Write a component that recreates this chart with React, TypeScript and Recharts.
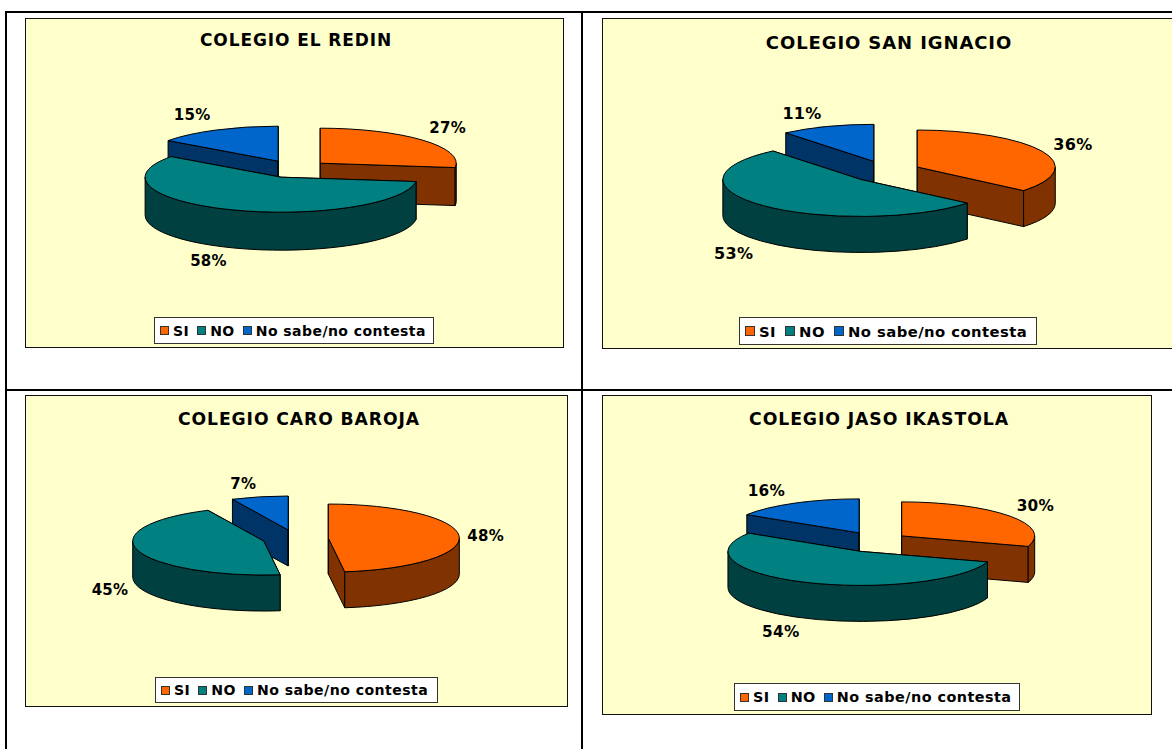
import React from "react";
import { PieChart, Pie, Legend } from "recharts";

const categories = ["SI", "NO", "No sabe/no contesta"];
const topColors = ["#FF6600", "#008080", "#0066CC"];
const wallColors = ["#803300", "#004040", "#003366"];
const drawOrder = [2, 0, 1];

const titles = ["COLEGIO EL REDIN", "COLEGIO SAN IGNACIO", "COLEGIO CARO BAROJA", "COLEGIO JASO IKASTOLA"];
const elRedin = [27, 58, 15];
const sanIgnacio = [36, 53, 11];
const caroBaroja = [48, 45, 7];
const jasoIkastola = [30, 54, 16];
const seriesValues = [elRedin, sanIgnacio, caroBaroja, jasoIkastola];

const panels = [
  { left: 25, top: 18, width: 539, height: 330, titleY: 22, titleX: 270, titleSize: 17 },
  { left: 602, top: 18, width: 600, height: 331, titleY: 25, titleX: 286, titleSize: 18 },
  { left: 25, top: 395, width: 543, height: 312, titleY: 24, titleX: 273, titleSize: 17.2 },
  { left: 602, top: 395, width: 550, height: 320, titleY: 24, titleX: 276, titleSize: 17.3 },
];
const pies = [
  { cx: 294, cy: 169, r: 136, ry: 35, ex: 35, ey: 8.8, depth: 38, labelSize: 15 },
  { cx: 885.6, cy: 171.7, r: 138, ry: 37, ex: 35, ey: 11, depth: 36, labelSize: 16 },
  { cx: 295.4, cy: 538.6, r: 131, ry: 34, ex: 33, ey: 8.8, depth: 36, labelSize: 15 },
  { cx: 875, cy: 542, r: 133, ry: 34, ex: 33, ey: 10.4, depth: 36, labelSize: 15.3 },
];
const labelNudges = [
  [[10, -9], [-15, 8], [-15, -10]],
  [[12, -4], [-15, 8], [-18, -8]],
  [[7, 0], [-9, 2], [-12, -8]],
  [[10, -7], [-15, 9], [-19, -8]],
];
const legends = [
  { left: 154, top: 317, width: 280, height: 27, size: 14, swatch: 9, gap: 8 },
  { left: 739, top: 317, width: 298, height: 28, size: 14.8, swatch: 10, gap: 9 },
  { left: 155, top: 677, width: 283, height: 26, size: 14.1, swatch: 9, gap: 8 },
  { left: 734, top: 683, width: 286, height: 28, size: 14.4, swatch: 9, gap: 8 },
];

const FONT = "'DejaVu Sans', Verdana, sans-serif";
const rad = (d: number) => (d * Math.PI) / 180;

function Slice(props: any, p: any) {
  const { startAngle, endAngle, fill } = props;
  const wall = props.payload?.wall ?? props.wall;
  const t1 = 90 - startAngle;
  const t2 = 90 - endAngle;
  const mid = rad((t1 + t2) / 2);
  const cx = props.cx + p.ex * Math.sin(mid);
  const cy = props.cy - p.ey * Math.cos(mid);
  const pt = (t: number, dy = 0): [number, number] => [
    cx + p.r * Math.sin(rad(t)),
    cy - p.ry * Math.cos(rad(t)) + dy,
  ];
  const arc = (a: number, b: number, dy = 0) => {
    const [x, y] = pt(b, dy);
    return `A${p.r} ${p.ry} 0 ${b - a > 180 ? 1 : 0} 1 ${x} ${y}`;
  };
  const a = pt(t1);
  const b = pt(t2);
  const face = (q: [number, number]) =>
    `M${cx} ${cy}L${q[0]} ${q[1]}L${q[0]} ${q[1] + p.depth}L${cx} ${cy + p.depth}Z`;
  const topPath = `M${cx} ${cy}L${a[0]} ${a[1]}${arc(t1, t2)}Z`;
  const w1 = Math.max(t1, 90);
  const w2 = Math.min(t2, 270);
  let outer = "";
  if (w2 > w1) {
    const s = pt(w1);
    const eb = pt(w2, p.depth);
    outer = `M${s[0]} ${s[1]}${arc(w1, w2)}L${eb[0]} ${eb[1]}A${p.r} ${p.ry} 0 ${w2 - w1 > 180 ? 1 : 0} 0 ${s[0]} ${s[1] + p.depth}Z`;
  }
  const common = { stroke: "#000", strokeWidth: 1, strokeLinejoin: "round" as const };
  return (
    <g>
      <path d={face(a)} fill={wall} {...common} />
      <path d={face(b)} fill={wall} {...common} />
      {outer && <path d={outer} fill={wall} {...common} />}
      <path d={topPath} fill={fill} {...common} />
    </g>
  );
}

function LegendBox({ box }: any) {
  return (
    <div
      style={{
        boxSizing: "border-box",
        width: box.width,
        height: box.height,
        background: "#fff",
        border: "1px solid #333",
        display: "flex",
        alignItems: "center",
        paddingLeft: 5,
        fontFamily: FONT,
        fontWeight: 700,
        fontSize: box.size,
        letterSpacing: 0.45,
        color: "#000",
        whiteSpace: "nowrap",
      }}
    >
      {categories.map((c, i) => (
        <span key={c} style={{ display: "flex", alignItems: "center", marginRight: box.gap }}>
          <span
            style={{
              display: "inline-block",
              boxSizing: "border-box",
              width: box.swatch,
              height: box.swatch,
              background: topColors[i],
              border: "1px solid #333",
              marginRight: 4,
            }}
          />
          {c}
        </span>
      ))}
    </div>
  );
}

function ChartPanel({ index }: { index: number }) {
  const panel = panels[index];
  const values = seriesValues[index];
  const pie = pies[index];
  const box = legends[index];
  const total = values.reduce((s, v) => s + v, 0);
  const rows = drawOrder.map((cat) => ({
    name: categories[cat],
    value: values[cat],
    fill: topColors[cat],
    wall: wallColors[cat],
    cat,
  }));
  const start = 90 + (360 * values[drawOrder[0]]) / total;
  const renderLabel = (lp: any) => {
    const cat = drawOrder[lp.index];
    const t = rad(90 - lp.midAngle);
    const [nx, ny] = labelNudges[index][cat];
    const x = lp.cx + (pie.r * 1.15 + pie.ex) * Math.sin(t) + nx;
    const up = Math.cos(t);
    const y = lp.cy - (pie.ry * 1.15 + pie.ey) * up + (up < 0 ? pie.depth : 0) + ny;
    return (
      <text
        key={cat}
        x={x}
        y={y}
        textAnchor="middle"
        dominantBaseline="central"
        fontFamily={FONT}
        fontWeight={700}
        fontSize={pie.labelSize}
        letterSpacing={0.3}
        fill="#000"
      >
        {Math.round(lp.percent * 100)}%
      </text>
    );
  };
  return (
    <div
      style={{
        position: "absolute",
        left: panel.left,
        top: panel.top,
        width: panel.width,
        height: panel.height,
        boxSizing: "border-box",
        background: "#FFFFCC",
        border: "1px solid #111",
      }}
    >
      <div
        style={{
          position: "absolute",
          left: panel.titleX - 200,
          width: 400,
          top: panel.titleY - 11,
          textAlign: "center",
          fontFamily: FONT,
          fontWeight: 700,
          fontSize: panel.titleSize,
          letterSpacing: 0.9,
          lineHeight: "20px",
          color: "#000",
          whiteSpace: "nowrap",
        }}
      >
        {titles[index]}
      </div>
      <div style={{ position: "absolute", left: -1, top: -1 }}>
        <PieChart width={panel.width} height={panel.height} margin={{ top: 0, right: 0, bottom: 0, left: 0 }}>
          <Pie
            data={rows}
            dataKey="value"
            nameKey="name"
            cx={pie.cx - panel.left}
            cy={pie.cy - panel.top}
            innerRadius={0}
            outerRadius={pie.r}
            startAngle={start}
            endAngle={start - 360}
            paddingAngle={0}
            isAnimationActive={false}
            labelLine={false}
            label={renderLabel}
            shape={(sp: any) => Slice(sp, pie)}
          />
          <Legend
            content={() => <LegendBox box={box} />}
            wrapperStyle={{
              position: "absolute",
              left: box.left - panel.left,
              top: box.top - panel.top,
              width: box.width,
              height: box.height,
              bottom: "auto",
            }}
          />
        </PieChart>
      </div>
    </div>
  );
}

const rule = (left: number, top: number, width: number, height: number) => (
  <div style={{ position: "absolute", left, top, width, height, background: "#000" }} />
);

export default function App() {
  return (
    <div style={{ position: "absolute", left: 0, top: 0, width: 1172, height: 749, overflow: "hidden", background: "#fff" }}>
      {rule(5, 11, 1167, 2)}
      {rule(5, 11, 2, 738)}
      {rule(581, 11, 2, 738)}
      {rule(5, 389, 1167, 2)}
      {panels.map((_, i) => (
        <ChartPanel key={titles[i]} index={i} />
      ))}
    </div>
  );
}
